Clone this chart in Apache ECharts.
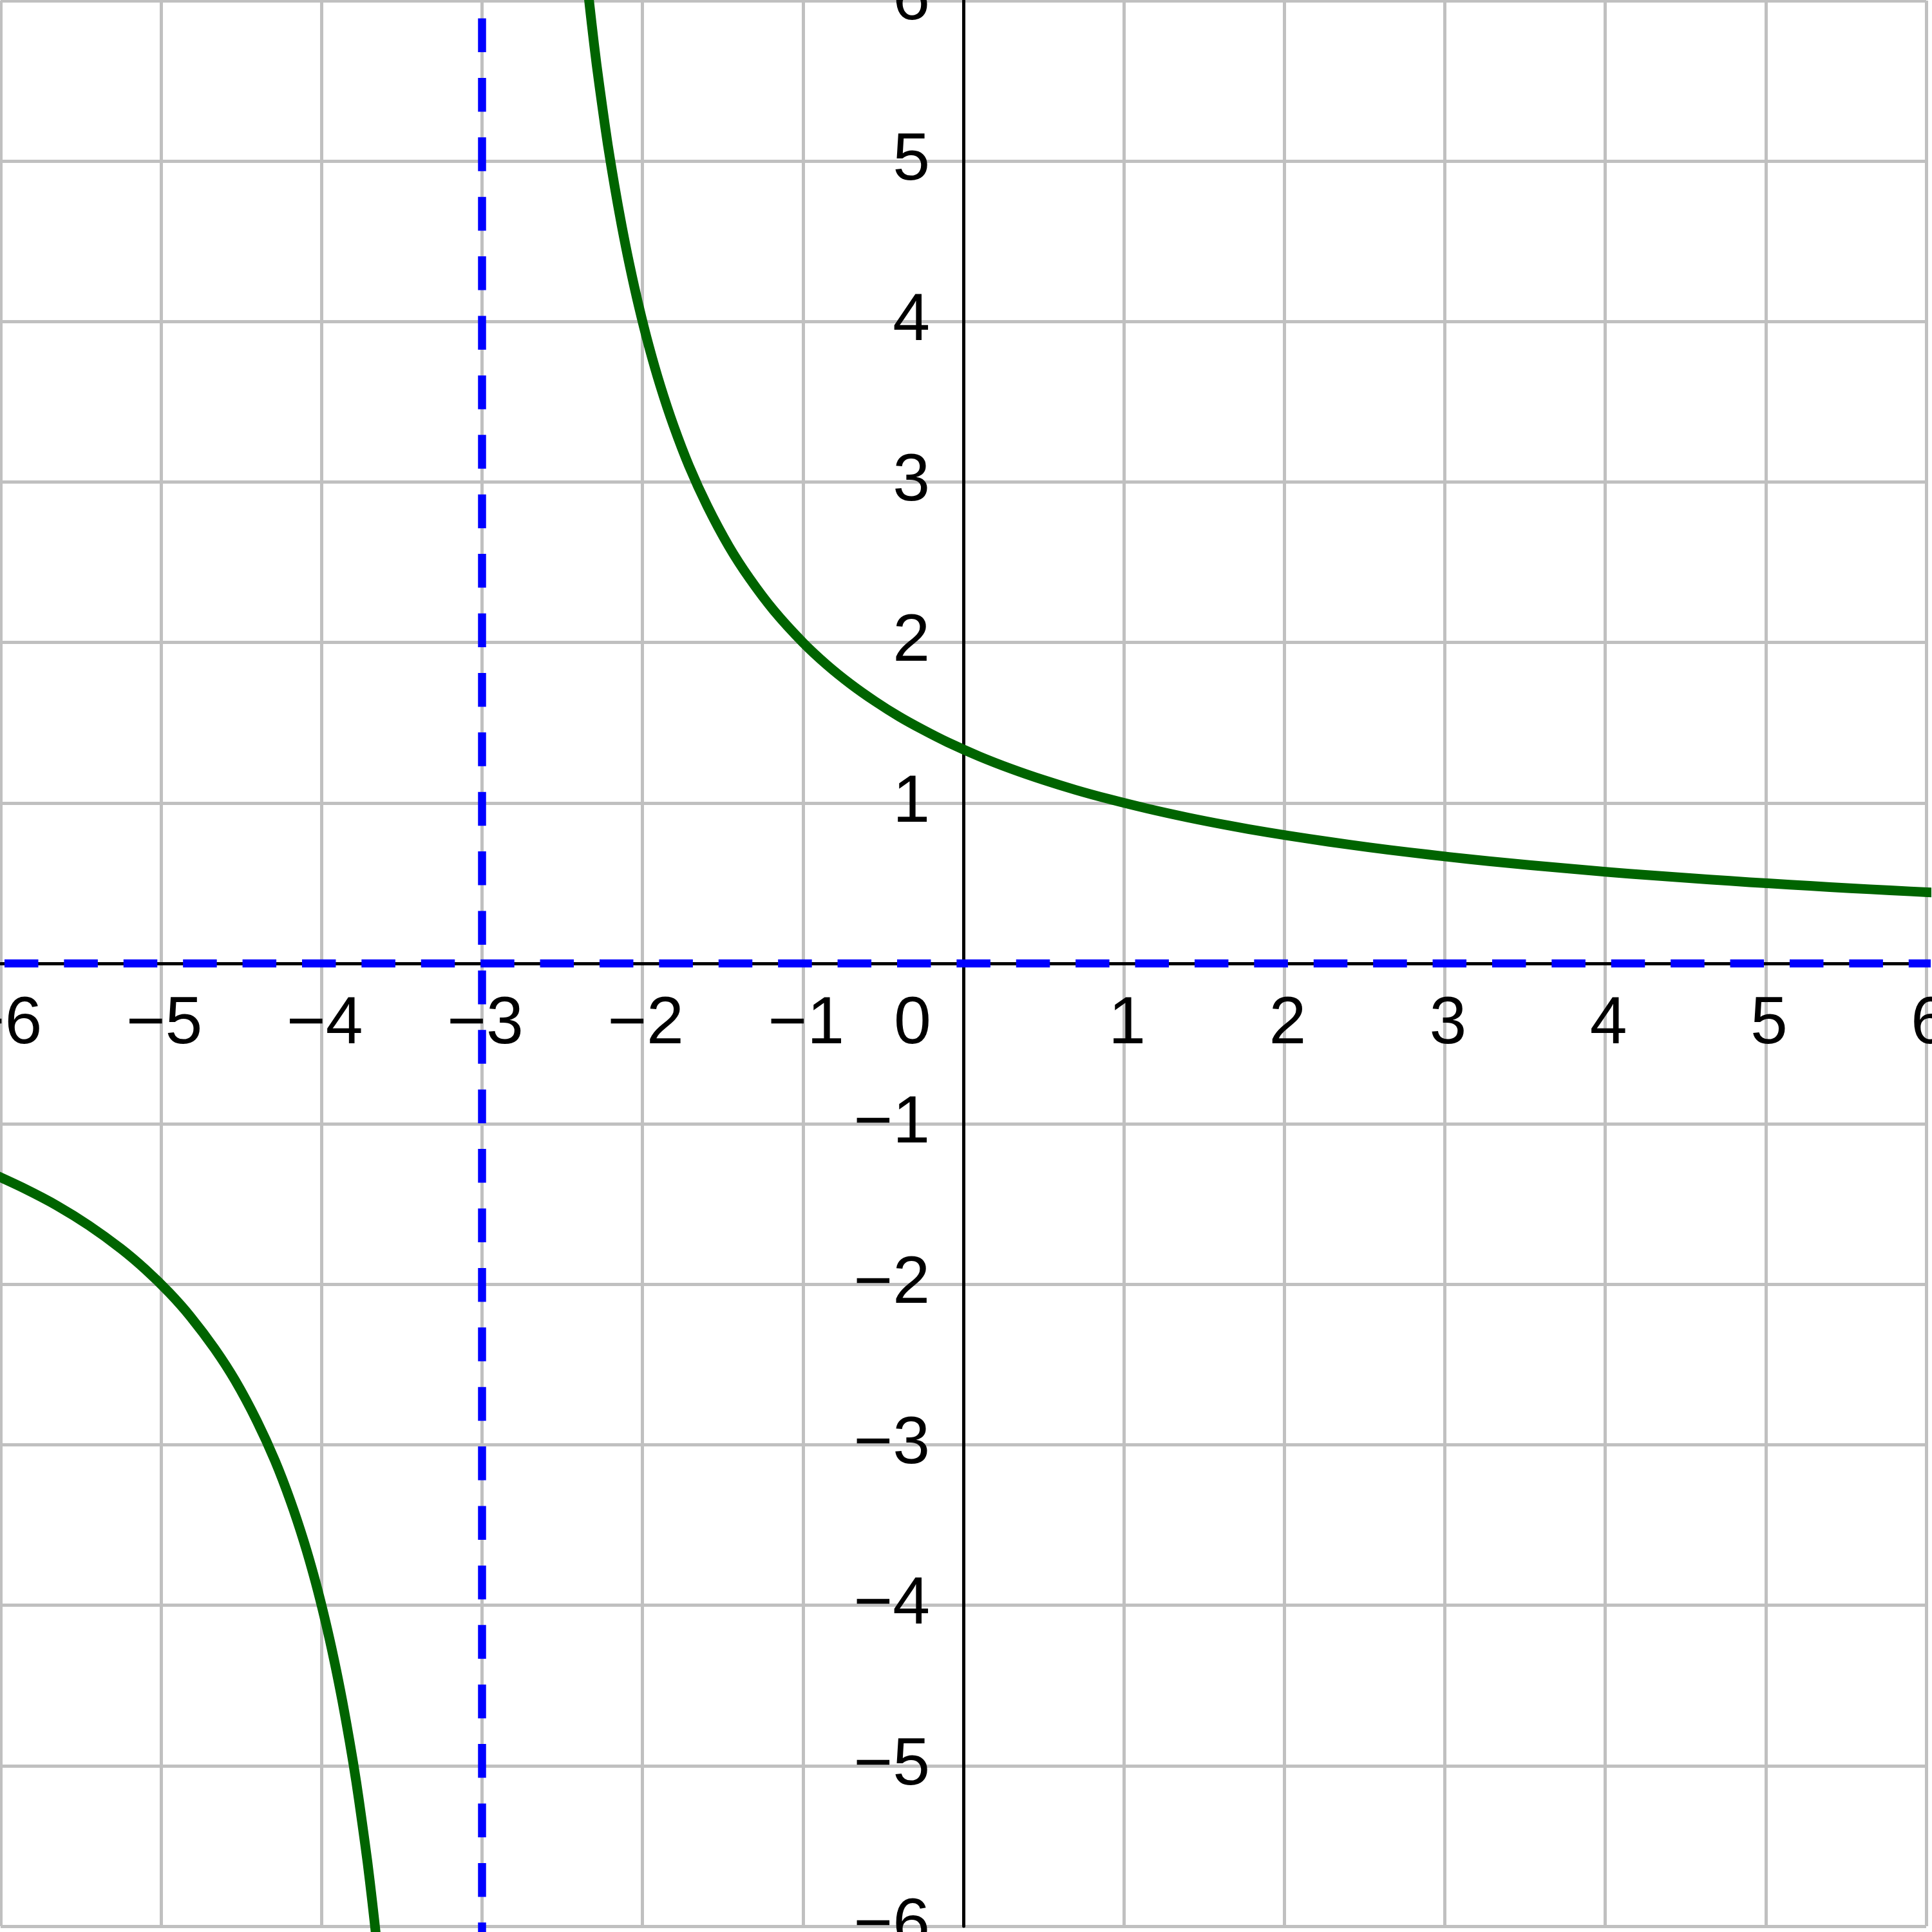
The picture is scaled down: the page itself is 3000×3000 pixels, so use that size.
<!DOCTYPE html>
<html>
<head>
<meta charset="utf-8">
<script src="https://cdn.jsdelivr.net/npm/echarts@6/dist/echarts.min.js"></script>
<style>
  html, body { margin: 0; padding: 0; background: #fff; }
  #chart { width: 3000px; height: 3000px; }
</style>
</head>
<body>
<div id="chart"></div>
<script>
// tick labels, one per unit from -6 to 6
const xTickLabels = ['−6', '−5', '−4', '−3', '−2', '−1', '0', '1', '2', '3', '4', '5', '6']
const yTickLabels = ['−6', '−5', '−4', '−3', '−2', '−1', '', '1', '2', '3', '4', '5', '6']

// curve right of the vertical asymptote
const rightBranch = [
  [-2.345, 6.11], [-2.316, 5.85], [-2.286, 5.6], [-2.252, 5.35], [-2.216, 5.1], [-2.175, 4.85],
  [-2.13, 4.6], [-2.08, 4.35], [-2.024, 4.1], [-1.961, 3.85], [-1.889, 3.6], [-1.806, 3.35],
  [-1.71, 3.1], [-1.596, 2.85], [-1.462, 2.6], [-1.333, 2.4], [-1.182, 2.2], [-1.0, 2.0],
  [-0.85, 1.86], [-0.7, 1.739], [-0.55, 1.633], [-0.4, 1.538], [-0.25, 1.455], [-0.1, 1.379],
  [0.1, 1.29], [0.3, 1.212], [0.5, 1.143], [0.7, 1.081], [0.9, 1.026], [1.15, 0.964],
  [1.4, 0.909], [1.65, 0.86], [1.9, 0.816], [2.15, 0.777], [2.4, 0.741], [2.65, 0.708],
  [2.9, 0.678], [3.15, 0.65], [3.4, 0.625], [3.65, 0.602], [3.9, 0.58], [4.15, 0.559],
  [4.4, 0.541], [4.65, 0.523], [4.9, 0.506], [5.15, 0.491], [5.4, 0.476], [5.65, 0.462],
  [5.9, 0.449], [6.15, 0.437]
]

// curve left of the vertical asymptote
const leftBranch = [
  [-6.05, -1.311], [-5.85, -1.404], [-5.65, -1.509], [-5.45, -1.633], [-5.25, -1.778],
  [-5.1, -1.905], [-4.95, -2.051], [-4.818, -2.2], [-4.667, -2.4], [-4.538, -2.6],
  [-4.404, -2.85], [-4.29, -3.1], [-4.194, -3.35], [-4.111, -3.6], [-4.039, -3.85],
  [-3.976, -4.1], [-3.92, -4.35], [-3.87, -4.6], [-3.825, -4.85], [-3.784, -5.1],
  [-3.748, -5.35], [-3.714, -5.6], [-3.684, -5.85], [-3.655, -6.11]
]

const horizontalAsymptote = [[-6.1, 0], [6.1, 0]]
const verticalAsymptote = [[-3, 6.1], [-3, -6.1]]

const FONT = "'Liberation Sans', Arial, sans-serif"
const labelText = { fontSize: 104, fontFamily: FONT, color: '#000' }

const chart = echarts.init(document.getElementById('chart'))

chart.setOption({
  animation: false,
  backgroundColor: '#fff',
  grid: { left: 1, top: 1, width: 2990, height: 2990, outerBoundsMode: 'none' },
  xAxis: {
    type: 'value',
    position: 'bottom',
    offset: -1495,
    min: -6,
    max: 6,
    interval: 1,
    axisLine: { onZero: false, lineStyle: { color: '#000', width: 5 } },
    axisTick: { show: false },
    splitLine: { show: true, lineStyle: { color: '#c0c0c0', width: 5 } },
    axisLabel: {
      showMinLabel: true,
      showMaxLabel: true,
      margin: 43,
      ...labelText,
      formatter: (v) => {
        const t = xTickLabels[Math.round(v) + 6]
        return Math.round(v) === 0 ? '{z|' + t + '}' : '{n|' + t + '}'
      },
      rich: {
        n: { ...labelText, padding: [0, 0, 0, 10] },
        z: { ...labelText, padding: [0, 158, 0, 0] }
      }
    }
  },
  yAxis: {
    type: 'value',
    position: 'left',
    offset: -1495,
    min: -6,
    max: 6,
    interval: 1,
    axisLine: { onZero: false, lineStyle: { color: '#000', width: 5 } },
    axisTick: { show: false },
    splitLine: { show: true, lineStyle: { color: '#c0c0c0', width: 5 } },
    axisLabel: {
      showMinLabel: true,
      showMaxLabel: true,
      margin: 52,
      ...labelText,
      padding: [48, 0, 0, 0],
      formatter: (v) => yTickLabels[Math.round(v) + 6]
    }
  },
  series: [
    {
      type: 'line',
      data: horizontalAsymptote,
      clip: false,
      showSymbol: false,
      silent: true,
      z: 3,
      lineStyle: { color: '#0000ff', width: 12.5, type: [52.5, 39.9], dashOffset: 61.5, cap: 'butt' }
    },
    {
      type: 'line',
      data: verticalAsymptote,
      clip: false,
      showSymbol: false,
      silent: true,
      z: 3,
      lineStyle: { color: '#0000ff', width: 12.5, type: [52.5, 39.9], dashOffset: 40, cap: 'butt' }
    },
    {
      type: 'line',
      data: rightBranch,
      clip: false,
      showSymbol: false,
      smooth: 0.3,
      z: 4,
      lineStyle: { color: '#006400', width: 15, join: 'round' }
    },
    {
      type: 'line',
      data: leftBranch,
      clip: false,
      showSymbol: false,
      smooth: 0.3,
      z: 4,
      lineStyle: { color: '#006400', width: 15, join: 'round' }
    }
  ]
})
</script>
</body>
</html>
